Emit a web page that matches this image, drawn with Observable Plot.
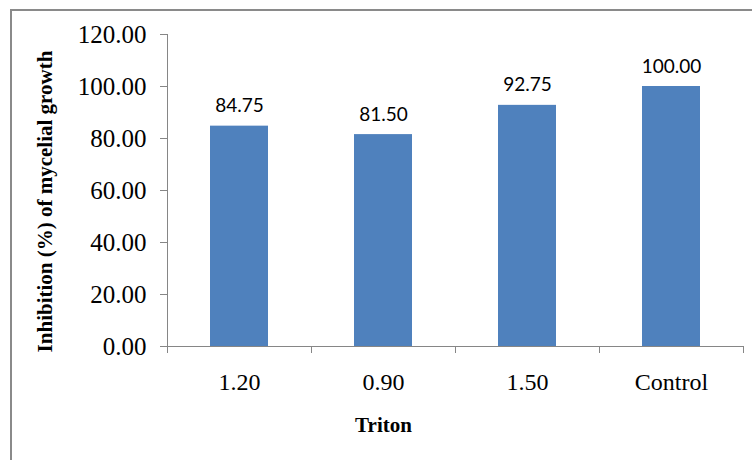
<!DOCTYPE html>
<html>
<head>
<meta charset="utf-8">
<script src="https://cdn.jsdelivr.net/npm/d3@7"></script>
<script src="https://cdn.jsdelivr.net/npm/@observablehq/plot@0.6"></script>
<style>
  html, body { margin: 0; padding: 0; background: #fff; }
  #wrap { position: relative; width: 752px; height: 460px; overflow: hidden; }
  #border { position: absolute; left: 10px; top: 9px; right: -20px; bottom: -20px;
            border-top: 2px solid #8a8a8a; border-left: 2px solid #8a8a8a; pointer-events: none; }
</style>
</head>
<body>
<div id="wrap"><div id="border"></div></div>
<script>
const categories = ["1.20", "0.90", "1.50", "Control"];
const values = [84.75, 81.50, 92.75, 100.00];
const yTicks = [0, 20, 40, 60, 80, 100, 120];
const xTitle = "Triton";
const yTitle = "Inhibition (%) of mycelial growth";

const data = categories.map((c, i) => ({cat: c, value: values[i]}));
const axisColor = "#868686";
const serif = "'Liberation Serif', 'Times New Roman', serif";

const plot = Plot.plot({
  width: 752,
  height: 460,
  marginLeft: 167,
  marginRight: 9,
  marginTop: 34,
  marginBottom: 114,
  style: {fontFamily: serif, fontSize: "24px", color: "#000", background: "transparent", overflow: "visible"},
  x: {domain: categories, paddingInner: 0.6, paddingOuter: 0.3, axis: null},
  y: {domain: [0, 120], axis: null},
  marks: [
    Plot.barY(data, {x: "cat", y: "value", fill: "#4F81BD"}),
    Plot.axisY({ticks: yTicks, tickFormat: d3.format(".2f"), tickSize: 7, tickPadding: 14,
                stroke: axisColor, fill: "#000", fontSize: 25, label: null}),
    Plot.axisX({tickSize: 0, tickPadding: 26, fontSize: 24, label: null, fill: "#000"}),
    Plot.ruleY([0], {stroke: axisColor}),
    Plot.text(data, {x: "cat", y: "value", text: d => d.value.toFixed(2), dy: -20,
                     fontFamily: "Lato, 'Liberation Sans', sans-serif", fontSize: 19, fill: "#000"}),
    Plot.text([xTitle], {frameAnchor: "bottom-left", textAnchor: "middle", dx: 216, dy: 85,
                         fontWeight: "bold", fontSize: 21, fill: "#000"}),
    Plot.text([yTitle], {frameAnchor: "left", textAnchor: "middle", dx: -122, dy: 11, rotate: -90,
                         fontWeight: "bold", fontSize: 21, fill: "#000"})
  ]
});

document.getElementById("wrap").prepend(plot);

// axis line and category boundary ticks, positioned with the Plot scales
const xs = plot.scale("x");
const ys = plot.scale("y");
const gap = xs.step - xs.bandwidth;
const bounds = categories.map(c => xs.apply(c) - gap / 2);
bounds.push(xs.apply(categories[categories.length - 1]) + xs.bandwidth + gap / 2);
const y0 = ys.apply(0);
const yTop = ys.apply(yTicks[yTicks.length - 1]);
const g = d3.select(plot).append("g").attr("stroke", axisColor);
g.selectAll("line.b").data(bounds).join("line")
  .attr("x1", d => Math.round(d) + 0.5).attr("x2", d => Math.round(d) + 0.5)
  .attr("y1", y0).attr("y2", y0 + 7);
g.append("line")
  .attr("x1", Math.round(bounds[0]) + 0.5).attr("x2", Math.round(bounds[0]) + 0.5)
  .attr("y1", yTop).attr("y2", y0);
</script>
</body>
</html>
